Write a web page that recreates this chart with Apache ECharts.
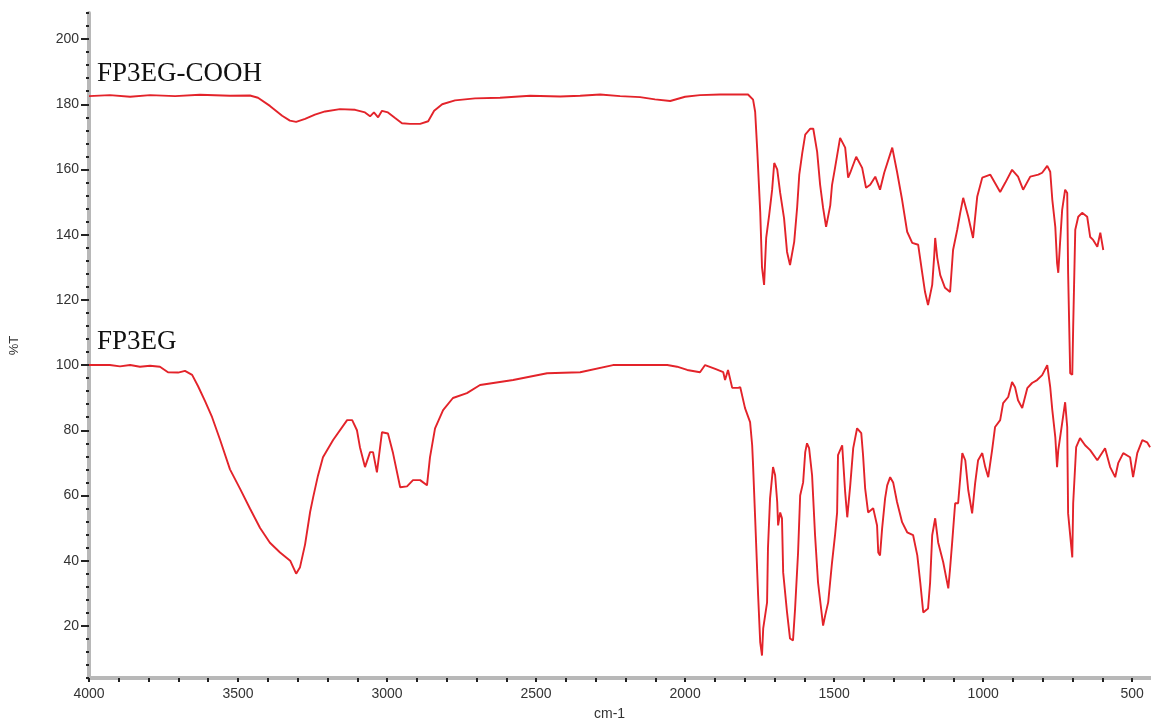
<!DOCTYPE html>
<html>
<head>
<meta charset="utf-8">
<title>FTIR FP3EG</title>
<script src="https://cdn.jsdelivr.net/npm/echarts/dist/echarts.min.js"></script>
<style>
	html, body { margin:0; padding:0; background:#fff; overflow:hidden; }
	#chart { width:1165px; height:726px; }
</style>
</head>
<body>
<div id="chart"></div>
<script>
// wavenumber (cm-1) / %T
var coohWn = [4000,3930,3862,3795,3711,3628,3527,3460,3433,3393,3352,3326,3305,3275,3242,3208,3158,3107,3074,3057,
	3044,3030,3017,2997,2973,2950,2923,2889,2862,2842,2815,2772,2705,2621,2520,2419,2352,2285,2218,2151,
	2101,2050,2000,1950,1883,1789,1772,1765,1758,1748,1742,1735,1728,1718,1708,1701,1691,1681,1668,1658,
	1648,1634,1624,1617,1607,1597,1580,1570,1557,1547,1537,1527,1513,1507,1497,1480,1463,1453,1446,1426,
	1406,1393,1379,1362,1346,1332,1305,1289,1272,1255,1238,1218,1205,1195,1185,1171,1164,1161,1154,1144,
	1128,1111,1101,1087,1077,1067,1050,1034,1020,1003,976,943,926,903,883,866,842,815,802,785,
	775,768,758,752,748,742,735,725,718,715,708,701,698,691,681,668,651,641,631,617,607,597];
var coohT = [182.5,182.8,182.3,182.8,182.5,182.9,182.6,182.7,182,179.5,176.5,175,174.6,175.5,176.8,177.8,178.5,178.3,177.5,176.3,
	177.5,176,178,177.5,175.8,174.2,174,174,174.8,178,180,181.2,181.8,182,182.6,182.4,182.6,183,182.5,182.2,
	181.5,181,182.3,182.8,183,183,181.4,177.7,166,147,130,124.6,139,146,153.8,162,160,152.8,145,134.7,
	130.7,137.8,148.5,158.4,165,170.7,172.5,172.5,165.4,155.3,148.2,142.4,149,155.3,160.5,169.7,166.7,157.5,159,163.9,
	160.5,154.4,155.3,157.8,153.8,159,166.7,159.3,150.7,140.9,137.5,136.9,128.6,122.4,118.4,124.6,133.8,139,132.9,127.6,
	123.7,122.4,135.3,141.5,146.7,151.3,145.5,139,151.6,157.5,158.4,153.1,155.9,159.9,157.8,153.8,157.8,158.4,159,161.1,
	159.3,150.7,142.4,131.3,128.3,137.5,147.6,153.8,152.8,128.3,97.5,97,111.7,141.5,145.5,146.7,145.5,139.3,138.4,136.3,140.6,135.3];

var egWn = [4000,3930,3896,3862,3829,3795,3762,3735,3701,3678,3654,3634,3611,3587,3560,3527,3493,3460,3426,3393,
	3359,3325,3315,3305,3292,3275,3258,3248,3232,3215,3181,3134,3117,3101,3091,3074,3057,3047,3034,3017,
	2997,2980,2956,2933,2913,2889,2866,2856,2839,2812,2779,2732,2688,2577,2463,2352,2242,2060,2027,1993,
	1950,1933,1899,1872,1866,1856,1842,1822,1815,1799,1782,1775,1772,1765,1755,1748,1742,1738,1725,1722,
	1715,1705,1698,1691,1688,1681,1675,1671,1658,1648,1638,1631,1621,1614,1604,1597,1591,1584,1574,1564,
	1554,1537,1530,1520,1507,1497,1490,1487,1473,1463,1456,1446,1436,1423,1409,1403,1396,1386,1369,1356,
	1352,1346,1339,1329,1322,1312,1302,1289,1272,1255,1235,1221,1211,1201,1185,1178,1171,1161,1151,1134,
	1117,1111,1104,1094,1084,1070,1060,1050,1037,1027,1017,1003,993,983,970,960,943,933,916,903,
	893,883,869,852,836,819,802,785,775,768,758,752,748,735,725,718,715,701,698,688,
	675,658,641,617,591,574,557,547,530,507,497,483,466,450,440];
var egT = [100,100,99.6,100,99.5,99.8,99.5,97.8,97.7,98.2,97,93.5,89,84,77,68,62,56,50,45.5,
	42.5,40,38,36,38,45,55,59.4,66,71.7,77,83.1,83.1,80,74.8,68.7,73.3,73.3,67.1,79.4,
	79,73,62.5,62.8,64.7,64.7,63.1,71.7,80.6,86.2,89.9,91.4,93.9,95.4,97.5,97.8,100,100,99.5,98.5,
	97.8,100,98.8,97.8,95.4,98.5,93,93,93.2,86.8,82.5,75.4,69.3,53,29.3,14.9,10.9,19.2,27.2,43.8,
	59.1,68.7,66.2,58,50.8,54.8,53,36.4,24.1,16.1,15.5,25.3,42.5,60,64,73.3,76,74.5,66.2,47.8,
	33.3,20.1,23.2,27.2,39.5,47.8,54.8,72.4,75.4,61,53.3,63.1,74.5,80.6,79.1,72.4,62.2,54.8,56.1,50.8,
	42.5,41.6,49.9,59.1,63.1,65.6,64,58,51.8,48.7,47.8,41.6,33.3,24.1,25.3,33.3,47.8,53,45.6,39.5,
	31.5,37.6,45.6,57.6,57.6,73,70.8,61.6,54.5,63.7,70.8,73,68.7,65.6,73.9,81,83.1,88.3,90.2,94.8,
	93.2,89.2,86.8,92.9,94.5,95.4,96.9,100,93.2,86.2,77.9,68.7,73.9,82.2,88.6,81,54.5,41,57.6,74.8,
	77.6,75.4,73.9,70.8,74.5,68.7,65.6,69.9,73,71.7,65.6,73,77,76.3,74.8];

var xLabels = [4000,3500,3000,2500,2000,1500,1000,500];
var yLabels = [20,40,60,80,100,120,140,160,180,200];
var seriesNames = ['FP3EG-COOH','FP3EG'];

function pairs(xs, ys){
	return xs.map(function(x,i){ return [x, ys[i]]; });
}

var myChart = echarts.init(document.getElementById('chart'));
var lineColor = '#e3232a';
var option = {
	animation : false,
	grid : { left:89, right:3, top:13, bottom:48 },
	xAxis : {
		type : 'value',
		inverse : true,
		min : 400, max : 4000, interval : 100,
		name : '',
		axisLine : { lineStyle : { color:'#b8b8b8', width:4 } },
		axisTick : { length:4, lineStyle : { color:'#222', width:2 } },
		axisLabel : {
			customValues : xLabels,
			formatter : function(v){ return v % 500 === 0 ? String(v) : ''; },
			color:'#333', fontSize:14, margin:9, fontFamily:'Liberation Sans'
		},
		splitLine : { show:false }
	},
	yAxis : [
		{
			type : 'value',
			min : 4, max : 208, interval : 4,
			name : '%T',
			nameLocation : 'middle',
			nameGap : 68,
			nameTextStyle : { color:'#333', fontSize:13, fontFamily:'Liberation Sans' },
			axisLine : { show:true, lineStyle : { color:'#b8b8b8', width:4 } },
			axisTick : { length:3, lineStyle : { color:'#222', width:2 } },
			axisLabel : {
				customValues : yLabels,
				formatter : function(v){ return v % 20 === 0 ? String(v) : ''; },
				color:'#333', fontSize:14, margin:10, fontFamily:'Liberation Sans'
			},
			splitLine : { show:false }
		},
		{
			// longer ticks at the labelled values
			type : 'value',
			position : 'left',
			min : 4, max : 208,
			axisLine : { show:false },
			axisTick : { show:true, customValues : yLabels, length:8, lineStyle : { color:'#222', width:2 } },
			axisLabel : { show:false },
			splitLine : { show:false }
		}
	],
	graphic : [
		{ type:'text', left:97, top:60, style:{ text:seriesNames[0], fill:'#111', font:'27px "Liberation Serif"' } },
		{ type:'text', left:97, top:328, style:{ text:seriesNames[1], fill:'#111', font:'27px "Liberation Serif"' } },
		{ type:'text', left:594, top:707, style:{ text:'cm-1', fill:'#333', font:'14px "Liberation Sans"' } }
	],
	series : [
		{
			name : seriesNames[0],
			type : 'line',
			showSymbol : false,
			lineStyle : { color:lineColor, width:1.9 },
			data : pairs(coohWn, coohT)
		},
		{
			name : seriesNames[1],
			type : 'line',
			showSymbol : false,
			lineStyle : { color:lineColor, width:1.9 },
			data : pairs(egWn, egT)
		}
	]
};

myChart.setOption(option);
</script>
</body>
</html>
